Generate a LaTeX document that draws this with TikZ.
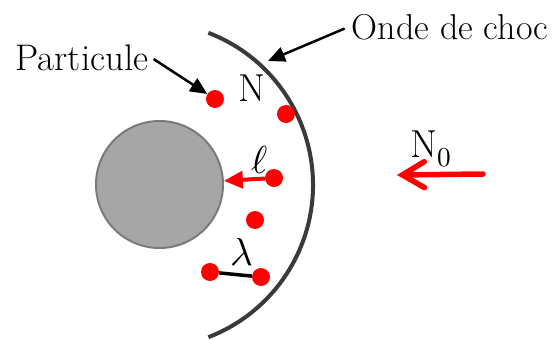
\documentclass[tikz,border=0pt]{standalone}
\usepackage{unicode-math}
\usetikzlibrary{arrows.meta}
\definecolor{sphere}{HTML}{A6A6A6}
\definecolor{spherebord}{HTML}{7A7A7A}
\definecolor{onde}{HTML}{3A3A3A}

\begin{document}
\begin{tikzpicture}[x=1pt, y=-1pt,
  particule/.style={circle, fill=red, inner sep=0pt, minimum size=18pt},
  fleche/.style={-{Triangle[length=17pt, width=15pt]}, line width=2.5pt},
  petit/.style={font=\fontsize{37}{42}\selectfont},
  grand/.style={font=\fontsize{36}{42}\selectfont},
  lettre/.style={font=\fontsize{39}{44}\selectfont},
]
  \useasboundingbox (0,0) rectangle (558,340);
  % sphere
  \node (S) [circle, fill=sphere, draw=spherebord, line width=2pt,
    minimum size=127pt, inner sep=0pt] at (159.5,184.5) {};
  % onde de choc
  \coordinate (C) at (150,185);
  \draw[onde, line width=4pt] (C) ++(-69:163) arc (-69:69:163);
  % particules
  \node (p1) [particule] at (215,99) {};
  \node (p2) [particule] at (286,114) {};
  \node (p3) [particule] at (274,178) {};
  \node (p4) [particule] at (255,220) {};
  \node (p5) [particule] at (210,272) {};
  \node (p6) [particule] at (261,277) {};
  % libre parcours
  \draw[line width=3.5pt] (p5) -- (p6);
  \draw[red, line width=4pt, -{Triangle[length=19pt, width=17pt]}] (p3) -- (S);
  % flux incident
  \coordinate (n0a) at (483,174);
  \coordinate (n0b) at (397,175);
  \draw[red, line width=5.5pt, line cap=round,
    -{Straight Barb[length=22pt, width=26pt, line cap=round]}] (n0a) -- (n0b);
  % textes
  \node (part) [petit] at (82,58) {Particule};
  \node (choc) [grand] at (450,27) {Onde de choc};
  \coordinate (front) at (268,61);
  \draw[fleche, shorten <=2pt] (part.east) -- (p1);
  \draw[fleche, shorten <=4pt] (choc.west) -- (front);
  \node (N) [lettre] at (252,88) {N};
  \node (ell) [lettre] at (260,160) {$\ell$};
  \node (lam) [lettre] at (242,252) {$\lambda$};
  \node (N0) [lettre] at (431,149) {N$_0$};
\end{tikzpicture}
\end{document}
